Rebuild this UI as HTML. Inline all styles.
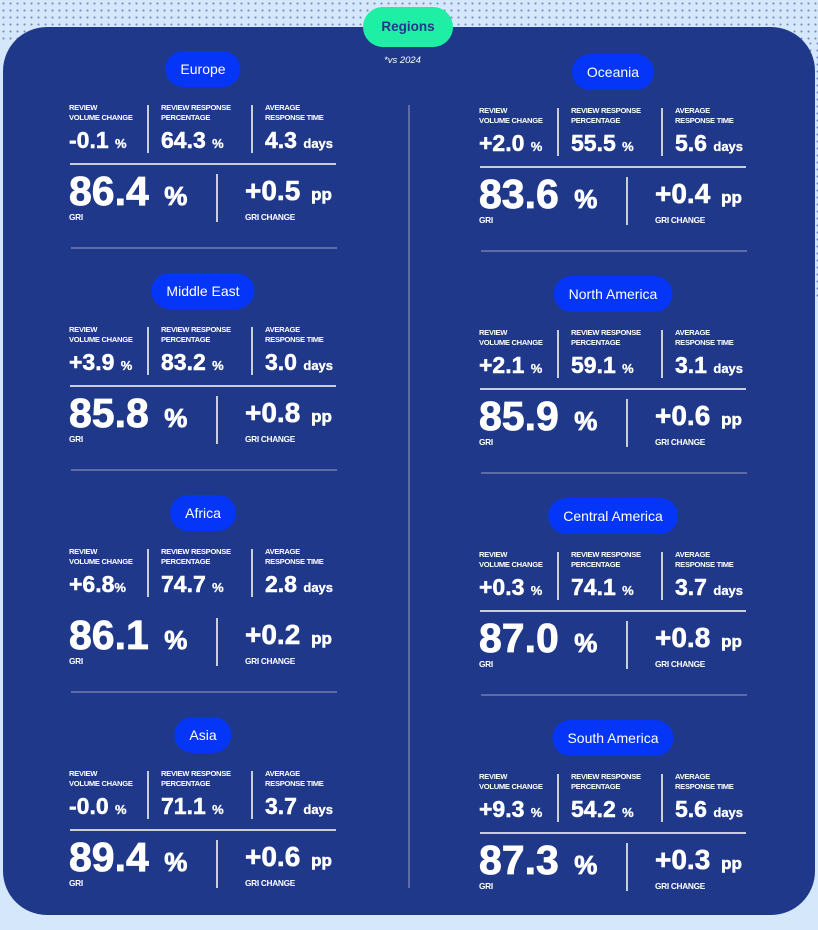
<!DOCTYPE html>
<html><head><meta charset="utf-8"><style>
*{margin:0;padding:0;box-sizing:border-box}
body{width:818px;height:917px;overflow:hidden;background:#d5e7fb;font-family:"Liberation Sans",Arial,sans-serif;position:relative}
.dots{position:absolute;left:0;top:0;width:818px;height:917px;background-image:radial-gradient(circle,#2b3f86 0.8px,transparent 1.2px);background-size:7px 7px;opacity:.55}
.panel{position:absolute;left:3px;top:27px;width:812px;height:888px;background:#1f3889;border-radius:44px}
.reg{position:absolute;left:363px;top:7px;width:90px;height:40px;border-radius:20px;background:#1eefa5;color:#1f3889;font-weight:bold;font-size:13.5px;text-align:center;line-height:40px}
.vs{position:absolute;left:384px;top:55px;color:#fff;font-size:9.5px;font-style:italic}
.mid{position:absolute;left:408px;top:105px;width:1.5px;height:783px;background:#5d6ba6}
.s{position:absolute;width:270px;height:210px;color:#fff}
.pill{position:absolute;top:0;left:134px;transform:translateX(-50%);height:36px;border-radius:18px;background:#0536f7;padding:0 15px;font-size:14px;line-height:36px;white-space:nowrap}
.lb{position:absolute;top:52px;font-size:7.6px;font-weight:bold;line-height:9.5px;letter-spacing:-.3px}
.v{position:absolute;top:77px;font-size:23px;font-weight:bold;line-height:24px;letter-spacing:0;white-space:nowrap;-webkit-text-stroke:.5px #fff}
.v small{font-size:13px;letter-spacing:0;-webkit-text-stroke:.3px #fff}
.vd{position:absolute;width:1.5px;background:#c9cedb}
.hl{position:absolute;top:112px;left:1px;width:266px;height:1.5px;background:#c9cedb}
.big{position:absolute;top:119px;left:0;font-size:41px;font-weight:bold;line-height:42px;letter-spacing:0;white-space:nowrap;-webkit-text-stroke:.8px #fff}
.big small{font-size:26px;letter-spacing:0;margin-left:4px}
.ch{position:absolute;top:125px;left:176px;font-size:28px;font-weight:bold;line-height:30px;letter-spacing:0;white-space:nowrap;-webkit-text-stroke:.6px #fff}
.ch small{font-size:17px;letter-spacing:0;margin-left:3px}
.gl{position:absolute;top:161px;font-size:8.3px;font-weight:bold;letter-spacing:-.3px}
.sep{position:absolute;top:196px;left:2px;width:266px;height:2px;background:#5d6ba6}
</style></head><body>
<div class="dots" style="height:40px"></div>
<div class="dots" style="left:800px;width:18px;top:40px;height:260px"></div>
<div class="panel"></div>
<div class="reg">Regions</div>
<div class="vs">*vs 2024</div>
<div class="mid"></div>

<div class="s" style="left:69px;top:51px">
<div class="pill">Europe</div>
<div class="lb" style="left:0">REVIEW<br>VOLUME CHANGE</div><div class="lb" style="left:92px">REVIEW RESPONSE<br>PERCENTAGE</div><div class="lb" style="left:196px">AVERAGE<br>RESPONSE TIME</div>
<div class="v" style="left:0">-0.1 <small>%</small></div><div class="v" style="left:92px">64.3 <small>%</small></div><div class="v" style="left:196px">4.3 <small>days</small></div>
<div class="vd" style="left:78px;top:54px;height:48px"></div><div class="vd" style="left:182px;top:54px;height:48px"></div>
<div class="hl"></div>
<div class="big">86.4 <small>%</small></div><div class="ch">+0.5 <small>pp</small></div>
<div class="vd" style="left:147px;top:123px;height:48px"></div>
<div class="gl" style="left:0">GRI</div><div class="gl" style="left:176px">GRI CHANGE</div>
<div class="sep"></div></div>

<div class="s" style="left:69px;top:273px">
<div class="pill">Middle East</div>
<div class="lb" style="left:0">REVIEW<br>VOLUME CHANGE</div><div class="lb" style="left:92px">REVIEW RESPONSE<br>PERCENTAGE</div><div class="lb" style="left:196px">AVERAGE<br>RESPONSE TIME</div>
<div class="v" style="left:0">+3.9 <small>%</small></div><div class="v" style="left:92px">83.2 <small>%</small></div><div class="v" style="left:196px">3.0 <small>days</small></div>
<div class="vd" style="left:78px;top:54px;height:48px"></div><div class="vd" style="left:182px;top:54px;height:48px"></div>
<div class="hl"></div>
<div class="big">85.8 <small>%</small></div><div class="ch">+0.8 <small>pp</small></div>
<div class="vd" style="left:147px;top:123px;height:48px"></div>
<div class="gl" style="left:0">GRI</div><div class="gl" style="left:176px">GRI CHANGE</div>
<div class="sep"></div></div>

<div class="s" style="left:69px;top:495px">
<div class="pill">Africa</div>
<div class="lb" style="left:0">REVIEW<br>VOLUME CHANGE</div><div class="lb" style="left:92px">REVIEW RESPONSE<br>PERCENTAGE</div><div class="lb" style="left:196px">AVERAGE<br>RESPONSE TIME</div>
<div class="v" style="left:0">+6.8<small>%</small></div><div class="v" style="left:92px">74.7 <small>%</small></div><div class="v" style="left:196px">2.8 <small>days</small></div>
<div class="vd" style="left:78px;top:54px;height:48px"></div><div class="vd" style="left:182px;top:54px;height:48px"></div>
<div class="hl" style="background:transparent"></div>
<div class="big">86.1 <small>%</small></div><div class="ch">+0.2 <small>pp</small></div>
<div class="vd" style="left:147px;top:123px;height:48px"></div>
<div class="gl" style="left:0">GRI</div><div class="gl" style="left:176px">GRI CHANGE</div>
<div class="sep"></div></div>

<div class="s" style="left:69px;top:717px">
<div class="pill">Asia</div>
<div class="lb" style="left:0">REVIEW<br>VOLUME CHANGE</div><div class="lb" style="left:92px">REVIEW RESPONSE<br>PERCENTAGE</div><div class="lb" style="left:196px">AVERAGE<br>RESPONSE TIME</div>
<div class="v" style="left:0">-0.0 <small>%</small></div><div class="v" style="left:92px">71.1 <small>%</small></div><div class="v" style="left:196px">3.7 <small>days</small></div>
<div class="vd" style="left:78px;top:54px;height:48px"></div><div class="vd" style="left:182px;top:54px;height:48px"></div>
<div class="hl"></div>
<div class="big">89.4 <small>%</small></div><div class="ch">+0.6 <small>pp</small></div>
<div class="vd" style="left:147px;top:123px;height:48px"></div>
<div class="gl" style="left:0">GRI</div><div class="gl" style="left:176px">GRI CHANGE</div>
</div>

<div class="s" style="left:479px;top:54px">
<div class="pill">Oceania</div>
<div class="lb" style="left:0">REVIEW<br>VOLUME CHANGE</div><div class="lb" style="left:92px">REVIEW RESPONSE<br>PERCENTAGE</div><div class="lb" style="left:196px">AVERAGE<br>RESPONSE TIME</div>
<div class="v" style="left:0">+2.0 <small>%</small></div><div class="v" style="left:92px">55.5 <small>%</small></div><div class="v" style="left:196px">5.6 <small>days</small></div>
<div class="vd" style="left:78px;top:54px;height:48px"></div><div class="vd" style="left:182px;top:54px;height:48px"></div>
<div class="hl"></div>
<div class="big">83.6 <small>%</small></div><div class="ch">+0.4 <small>pp</small></div>
<div class="vd" style="left:147px;top:123px;height:48px"></div>
<div class="gl" style="left:0">GRI</div><div class="gl" style="left:176px">GRI CHANGE</div>
<div class="sep"></div></div>

<div class="s" style="left:479px;top:276px">
<div class="pill">North America</div>
<div class="lb" style="left:0">REVIEW<br>VOLUME CHANGE</div><div class="lb" style="left:92px">REVIEW RESPONSE<br>PERCENTAGE</div><div class="lb" style="left:196px">AVERAGE<br>RESPONSE TIME</div>
<div class="v" style="left:0">+2.1 <small>%</small></div><div class="v" style="left:92px">59.1 <small>%</small></div><div class="v" style="left:196px">3.1 <small>days</small></div>
<div class="vd" style="left:78px;top:54px;height:48px"></div><div class="vd" style="left:182px;top:54px;height:48px"></div>
<div class="hl"></div>
<div class="big">85.9 <small>%</small></div><div class="ch">+0.6 <small>pp</small></div>
<div class="vd" style="left:147px;top:123px;height:48px"></div>
<div class="gl" style="left:0">GRI</div><div class="gl" style="left:176px">GRI CHANGE</div>
<div class="sep"></div></div>

<div class="s" style="left:479px;top:498px">
<div class="pill">Central America</div>
<div class="lb" style="left:0">REVIEW<br>VOLUME CHANGE</div><div class="lb" style="left:92px">REVIEW RESPONSE<br>PERCENTAGE</div><div class="lb" style="left:196px">AVERAGE<br>RESPONSE TIME</div>
<div class="v" style="left:0">+0.3 <small>%</small></div><div class="v" style="left:92px">74.1 <small>%</small></div><div class="v" style="left:196px">3.7 <small>days</small></div>
<div class="vd" style="left:78px;top:54px;height:48px"></div><div class="vd" style="left:182px;top:54px;height:48px"></div>
<div class="hl"></div>
<div class="big">87.0 <small>%</small></div><div class="ch">+0.8 <small>pp</small></div>
<div class="vd" style="left:147px;top:123px;height:48px"></div>
<div class="gl" style="left:0">GRI</div><div class="gl" style="left:176px">GRI CHANGE</div>
<div class="sep"></div></div>

<div class="s" style="left:479px;top:720px">
<div class="pill">South America</div>
<div class="lb" style="left:0">REVIEW<br>VOLUME CHANGE</div><div class="lb" style="left:92px">REVIEW RESPONSE<br>PERCENTAGE</div><div class="lb" style="left:196px">AVERAGE<br>RESPONSE TIME</div>
<div class="v" style="left:0">+9.3 <small>%</small></div><div class="v" style="left:92px">54.2 <small>%</small></div><div class="v" style="left:196px">5.6 <small>days</small></div>
<div class="vd" style="left:78px;top:54px;height:48px"></div><div class="vd" style="left:182px;top:54px;height:48px"></div>
<div class="hl"></div>
<div class="big">87.3 <small>%</small></div><div class="ch">+0.3 <small>pp</small></div>
<div class="vd" style="left:147px;top:123px;height:48px"></div>
<div class="gl" style="left:0">GRI</div><div class="gl" style="left:176px">GRI CHANGE</div>
</div>
</body></html>
